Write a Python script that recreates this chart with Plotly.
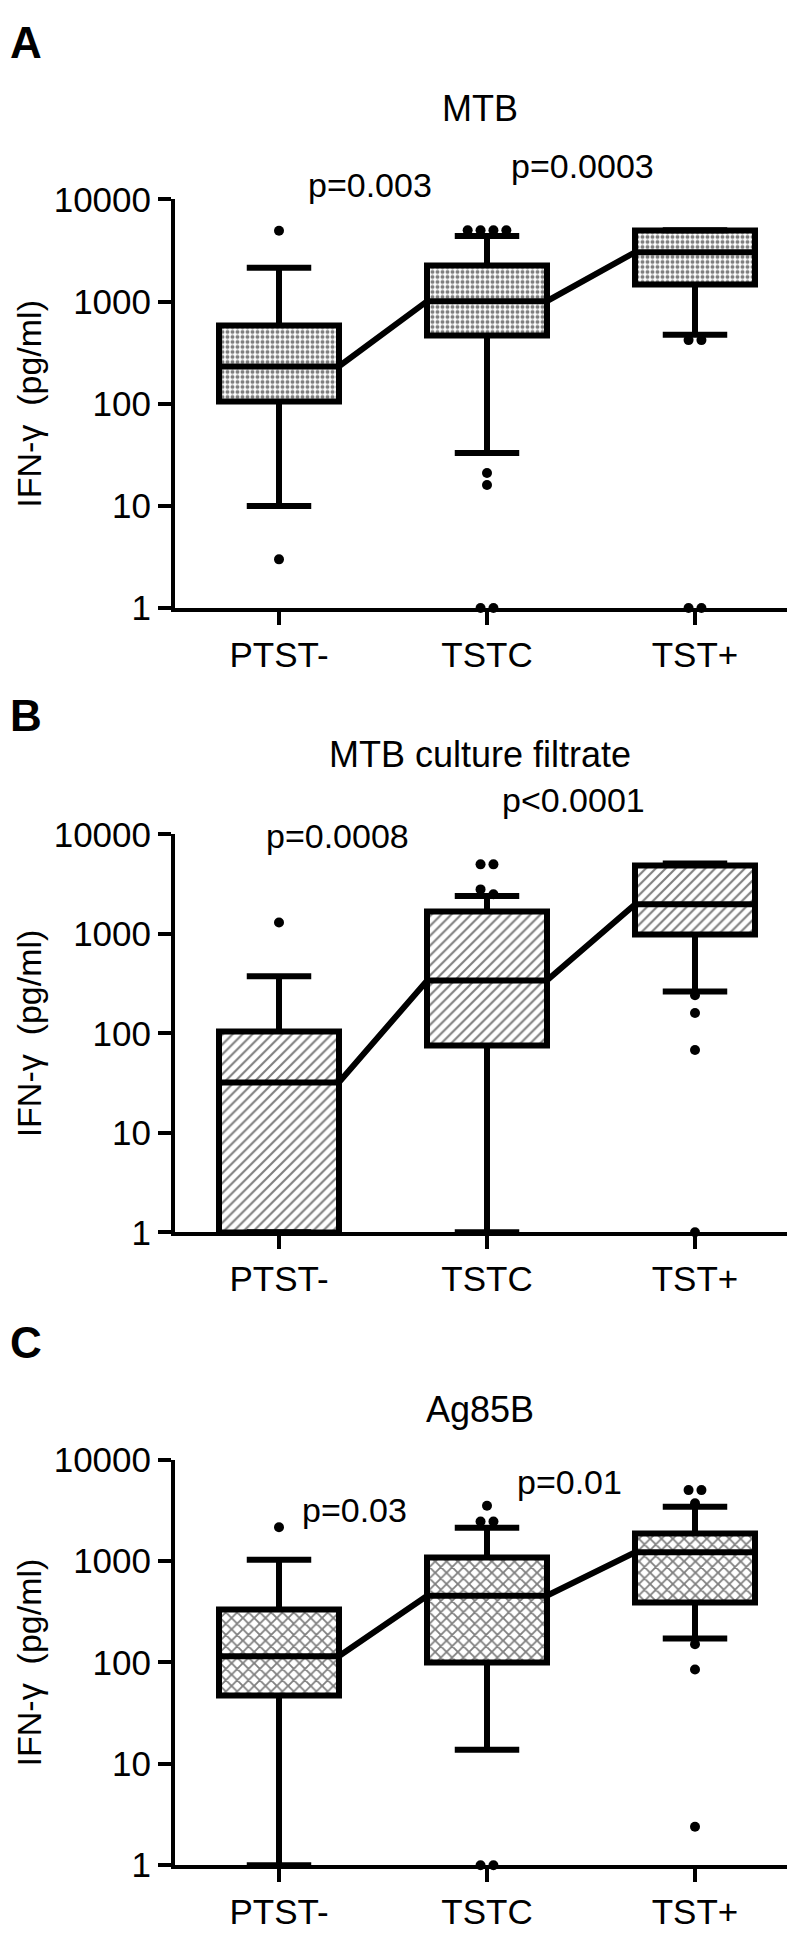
import math
import plotly.graph_objects as go

W, H = 795, 1937

categories = ["PTST-", "TSTC", "TST+"]
y_tickvals = [1, 10, 100, 1000, 10000]
y_ticktext = ["1", "10", "100", "1000", "10000"]

titles = ["MTB", "MTB culture filtrate", "Ag85B"]
panel_letters = ["A", "B", "C"]
y_title = "IFN-\u03b3\u00a0 (pg/ml)"

# Panel A: MTB
a_q1 = [105, 470, 1470]
a_med = [232, 1010, 3050]
a_q3 = [590, 2250, 5000]
a_low = [10, 33, 475]
a_high = [2150, 4400, 5000]
a_out = [[4950, 3], [5000, 5000, 5000, 5000, 21, 16, 1, 1], [420, 420, 1, 1]]
a_p = ["p=0.003", "p=0.0003"]

# Panel B: MTB culture filtrate
b_q1 = [1, 75, 990]
b_med = [32, 340, 1990]
b_q3 = [104, 1680, 4900]
b_low = [1, 1, 264]
b_high = [374, 2400, 5100]
b_out = [[1300], [5000, 5000, 2800, 2500], [242, 160, 68, 1]]
b_p = ["p=0.0008", "p<0.0001"]

# Panel C: Ag85B
c_q1 = [47.5, 100, 392]
c_med = [115, 455, 1220]
c_q3 = [330, 1090, 1845]
c_low = [1, 13.8, 172]
c_high = [1030, 2130, 3430]
c_out = [[2150], [3500, 2450, 2450, 1, 1], [5000, 5000, 3700, 151, 85, 2.4]]
c_p = ["p=0.03", "p=0.01"]

panels = [
    dict(q1=a_q1, med=a_med, q3=a_q3, low=a_low, high=a_high, out=a_out, p=a_p,
         pattern=dict(shape=".", size=5, solidity=0.5)),
    dict(q1=b_q1, med=b_med, q3=b_q3, low=b_low, high=b_high, out=b_out, p=b_p,
         pattern=dict(shape="/", size=7, solidity=0.3)),
    dict(q1=c_q1, med=c_med, q3=c_q3, low=c_low, high=c_high, out=c_out, p=c_p,
         pattern=dict(shape="x", size=8, solidity=0.4)),
]

# layout (pixel positions)
axis_top = [175, 823, 1461]
axis_bot = [592, 1229, 1875]
x_left, x_right = 167, 791
title_x = 472
title_y = [82, 741, 1410]
letter_y = [15, 702, 1341]
p_pos = [[(362, 160), (574, 141)], [(329, 825), (565, 788)], [(346, 1512), (561, 1484)]]

BOX_W = 0.575
CAP_HALF = 0.155
DOT_STEP = 0.062
LW = 6
FONT = "Arial, Liberation Sans, sans-serif"
F_YTICK = 35
F_XTICK = 35
F_TITLE = 36
F_P = 34
F_YTITLE = 34
F_LETTER = 44


def px(x):
    return x / W


def py(y):
    return 1 - y / H


def spread(vals, thr=0.1, step=DOT_STEP):
    order = sorted(range(len(vals)), key=lambda i: -vals[i])
    offs = [0.0] * len(vals)
    clusters = []
    for i in order:
        lv = math.log10(vals[i])
        if clusters and abs(math.log10(vals[clusters[-1][0]]) - lv) < thr:
            clusters[-1].append(i)
        else:
            clusters.append([i])
    for cl in clusters:
        n = len(cl)
        for k, i in enumerate(cl):
            offs[i] = (k - (n - 1) / 2) * step
    return offs


fig = go.Figure()
annotations = []

for pi, pn in enumerate(panels):
    xa = "x" if pi == 0 else f"x{pi+1}"
    ya = "y" if pi == 0 else f"y{pi+1}"
    idx = [0, 1, 2]

    # boxes
    fig.add_trace(go.Bar(
        x=idx, base=pn["q1"], y=[t - b for t, b in zip(pn["q3"], pn["q1"])],
        width=BOX_W, xaxis=xa, yaxis=ya, showlegend=False, hoverinfo="skip",
        marker=dict(color="white", line=dict(color="black", width=LW),
                    pattern=dict(fgcolor="black", bgcolor="white", **pn["pattern"])),
    ))

    # whiskers and caps
    wx, wy = [], []
    for i in idx:
        wx += [i, i, None, i, i, None]
        wy += [pn["q3"][i], pn["high"][i], None, pn["q1"][i], pn["low"][i], None]
        wx += [i - CAP_HALF, i + CAP_HALF, None, i - CAP_HALF, i + CAP_HALF, None]
        wy += [pn["high"][i], pn["high"][i], None, pn["low"][i], pn["low"][i], None]
    fig.add_trace(go.Scatter(x=wx, y=wy, mode="lines", xaxis=xa, yaxis=ya,
                             line=dict(color="black", width=LW), showlegend=False,
                             hoverinfo="skip", cliponaxis=False))

    # median segments connected box edge to box edge
    mx, my = [], []
    for i in idx:
        mx += [i - BOX_W / 2, i + BOX_W / 2]
        my += [pn["med"][i], pn["med"][i]]
    fig.add_trace(go.Scatter(x=mx, y=my, mode="lines", xaxis=xa, yaxis=ya,
                             line=dict(color="black", width=LW), showlegend=False,
                             hoverinfo="skip"))

    # outliers
    ox, oy = [], []
    for i in idx:
        vals = pn["out"][i]
        offs = spread(vals)
        ox += [i + o for o in offs]
        oy += vals
    fig.add_trace(go.Scatter(x=ox, y=oy, mode="markers", xaxis=xa, yaxis=ya,
                             marker=dict(color="black", size=10), showlegend=False,
                             hoverinfo="skip", cliponaxis=False))

    dom_y = [py(axis_bot[pi]), py(axis_top[pi])]
    axis_common = dict(showline=True, linecolor="black", linewidth=4, ticks="outside",
                       ticklen=13, tickwidth=4, tickcolor="black", showgrid=False,
                       zeroline=False)
    fig.layout[("xaxis" if pi == 0 else f"xaxis{pi+1}")] = dict(
        domain=[px(x_left), px(x_right)], range=[-0.5, 2.5], anchor=ya,
        tickmode="array", tickvals=idx, ticktext=categories,
        tickfont=dict(family=FONT, size=F_XTICK, color="black"), **axis_common)
    fig.layout[("yaxis" if pi == 0 else f"yaxis{pi+1}")] = dict(
        domain=dom_y, type="log", range=[0, 4], anchor=xa,
        tickmode="array", tickvals=y_tickvals, ticktext=y_ticktext,
        tickfont=dict(family=FONT, size=F_YTICK, color="black"), **axis_common)

    # texts
    annotations.append(dict(text=titles[pi], x=px(title_x), y=py(title_y[pi]),
                            xref="paper", yref="paper", showarrow=False,
                            xanchor="center", yanchor="middle",
                            font=dict(family=FONT, size=F_TITLE, color="black")))
    annotations.append(dict(text=f"<b>{panel_letters[pi]}</b>", x=px(0), y=py(letter_y[pi]),
                            xref="paper", yref="paper", showarrow=False,
                            xanchor="left", yanchor="middle",
                            font=dict(family=FONT, size=F_LETTER, color="black")))
    annotations.append(dict(text=y_title, x=px(21), y=py((axis_top[pi] + axis_bot[pi]) / 2),
                            xref="paper", yref="paper", showarrow=False, textangle=-90,
                            xanchor="center", yanchor="middle",
                            font=dict(family=FONT, size=F_YTITLE, color="black")))
    for txt, (tx, ty) in zip(pn["p"], p_pos[pi]):
        annotations.append(dict(text=txt, x=px(tx), y=py(ty), xref="paper", yref="paper",
                                showarrow=False, xanchor="center", yanchor="middle",
                                font=dict(family=FONT, size=F_P, color="black")))

fig.update_layout(width=W, height=H, margin=dict(l=0, r=0, t=0, b=0),
                  plot_bgcolor="white", paper_bgcolor="white",
                  annotations=annotations, bargap=0, showlegend=False)

fig.write_html("out.html")
